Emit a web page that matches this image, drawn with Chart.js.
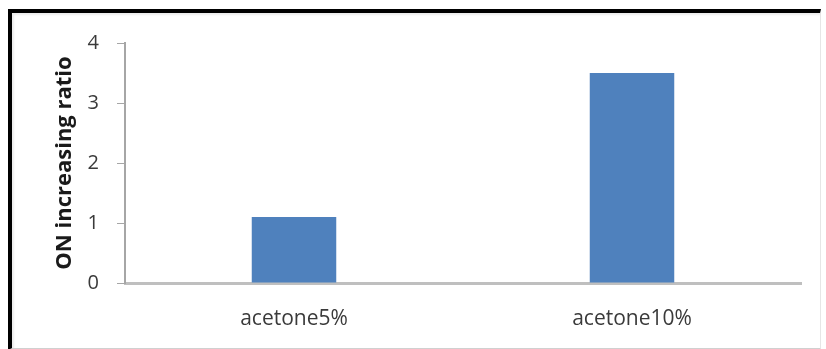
<!DOCTYPE html>
<html>
<head>
<meta charset="utf-8">
<script src="https://cdn.jsdelivr.net/npm/chart.js@4"></script>
<style>
  html, body { margin: 0; padding: 0; background: #ffffff; }
  #wrap { position: relative; width: 826px; height: 349px; overflow: hidden; }
  #frame { position: absolute; left: 8px; top: 9px; width: 808px; height: 335px;
           border-left: 4px solid #000; border-top: 4px solid #000;
           border-right: 1px solid #e6e6e6; border-bottom: 2px solid #d0d0d0;
           box-shadow: inset 2px 2px 2px rgba(0,0,0,0.08); }
  canvas { position: absolute; left: 0; top: 0; }
</style>
</head>
<body>
<div id="wrap">
  <div id="frame"></div>
  <canvas id="c" width="826" height="349"></canvas>
</div>
<script>
const categories = ['acetone5%', 'acetone10%'];
const ratioValues = [1.1, 3.5];
const yTickValues = [0, 1, 2, 3, 4];
const yTitle = 'ON increasing ratio';

new Chart(document.getElementById('c'), {
  type: 'bar',
  data: {
    labels: categories,
    datasets: [{
      data: ratioValues,
      backgroundColor: '#4f81bd',
      borderWidth: 0,
      barPercentage: 0.25,
      categoryPercentage: 1.0
    }]
  },
  options: {
    responsive: false,
    animation: false,
    devicePixelRatio: 1,
    layout: { padding: { left: 48, top: 43, right: 25, bottom: 0 } },
    plugins: { legend: { display: false }, tooltip: { enabled: false }, title: { display: false } },
    scales: {
      x: {
        grid: { drawOnChartArea: false, drawTicks: false },
        border: { display: true, color: '#bfbfbf', width: 3 },
        ticks: { color: '#3a3a3a', font: { family: 'Open Sans', size: 21 }, padding: 23 },
        afterFit: (s) => { s.height = 66; }
      },
      y: {
        min: 0, max: 4,
        afterBuildTicks: (s) => { s.ticks = yTickValues.map(v => ({ value: v })); },
        grid: { drawOnChartArea: false, drawTicks: true, tickLength: 8, color: '#a6a6a6', lineWidth: 1 },
        border: { display: true, color: '#a6a6a6', width: 2 },
        ticks: { color: '#3a3a3a', font: { family: 'Open Sans', size: 20 }, padding: 18 },
        title: { display: true, text: yTitle, color: '#1a1a1a',
                 font: { family: 'Open Sans', size: 22, weight: 'bold' }, padding: { top: 4, bottom: 4 } },
        afterFit: (s) => { s.width = 77; }
      }
    }
  }
});
</script>
</body>
</html>
